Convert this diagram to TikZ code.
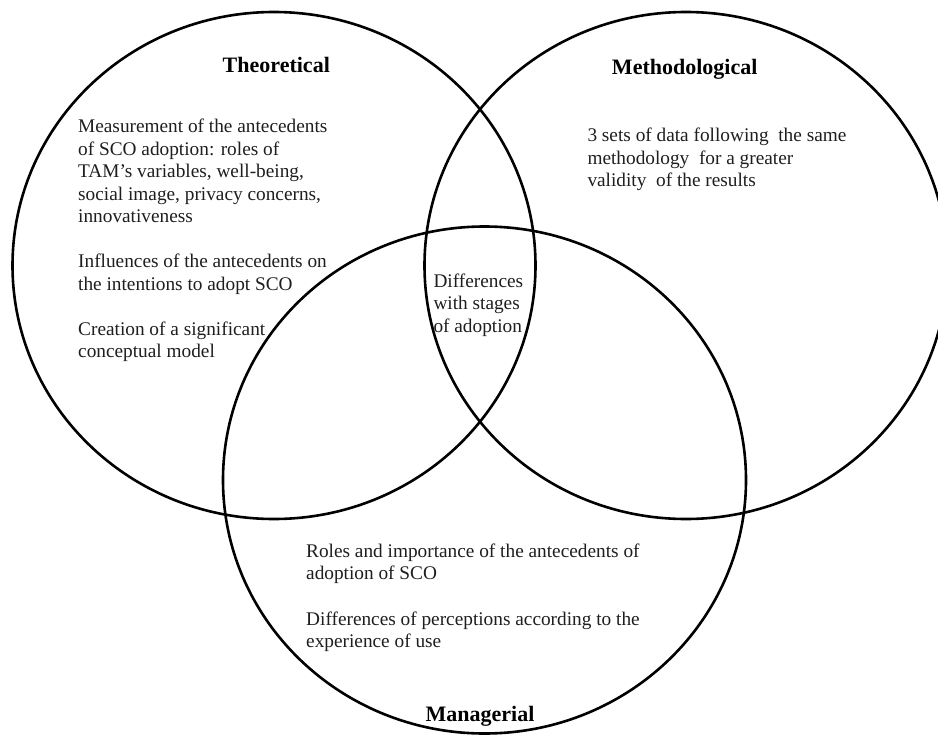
\documentclass[tikz,border=0pt]{standalone}
\usepackage{fontspec}
\setmainfont{Liberation Serif}
\usetikzlibrary{shapes.geometric}
\definecolor{ink}{HTML}{1E1E1E}
\begin{document}
\begin{tikzpicture}[x=1pt,y=-1pt,
  ring/.style={draw=black, line width=2.6pt, ellipse, minimum width=523pt,
    minimum height=507pt, inner sep=0pt},
  heading/.style={anchor=base, inner sep=0pt,
    font=\fontsize{22}{26}\selectfont\bfseries, text=black},
  body/.style={anchor=base west, inner sep=0pt, text=ink,
    font=\fontsize{19.3}{22.5}\selectfont}]
\useasboundingbox (0,0) rectangle (938,736);
\clip (0,0) rectangle (938,736);

% the three overlapping sets
\node[ring] (theo) at (274,265.5) {};
\node[ring] (meth) at (686,265.5) {};
\node[ring] (mana) at (484.5,480) {};

% set titles
\node[heading] (theoH) at (276.3,72.3) {Theoretical};
\node[heading] (methH) at (684.7,74) {Methodological};
\node[heading] (manaH) at (480,721) {Managerial};

% contributions in each region
\node[body] (theoT) at (78,132.5) {\parbox[t]{300pt}{\raggedright
  Measurement of the antecedents\\
  of SCO adoption: roles of\\
  TAM’s variables, well-being,\\
  social image, privacy concerns,\\
  innovativeness\\[22.5pt]
  Influences of the antecedents on\\
  the intentions to adopt SCO\\[22.5pt]
  Creation of a significant\\
  conceptual model}};

\node[body] (methT) at (587.3,141.7) {\parbox[t]{320pt}{\raggedright
  3 sets of data following\ \ the same\\
  methodology\ \ for a greater\\
  validity\ \ of the results}};

\node[body] (coreT) at (433.3,287.3) {\parbox[t]{120pt}{\raggedright
  Differences\\
  with stages\\
  of adoption}};

\node[body] (manaT) at (306,557) {\parbox[t]{380pt}{\raggedright
  Roles and importance of the antecedents of\\
  adoption of SCO\\[23pt]
  Differences of perceptions according to the\\
  experience of use}};
\end{tikzpicture}
\end{document}
